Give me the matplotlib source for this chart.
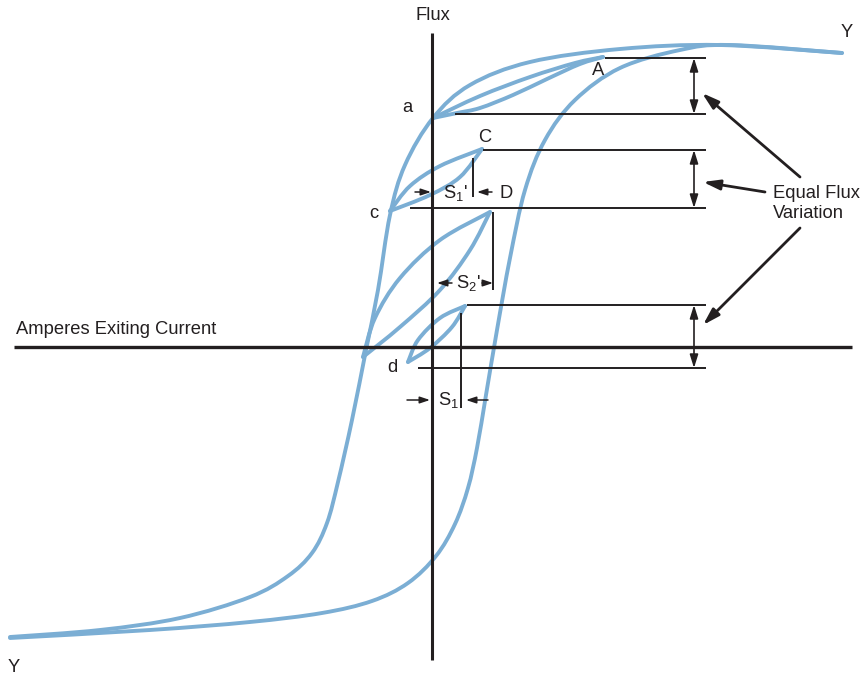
import numpy as np
import matplotlib
matplotlib.use("Agg")
import matplotlib.pyplot as plt
from matplotlib.path import Path
from matplotlib.patches import PathPatch

plt.rcParams["font.family"] = ["Liberation Sans", "DejaVu Sans"]
plt.rcParams["mathtext.default"] = "regular"

BLUE = "#7BAED4"
INK = "#231F20"

# main hysteresis loop, picture coordinates (x right, y down)
descending = [(842, 53), (720, 45), (620, 49), (530, 62), (470, 85), (433, 118),
              (405, 165), (390, 215), (378, 290), (366, 350), (352, 420),
              (338, 482), (327, 523), (312, 553), (288, 576), (250, 597),
              (180, 618), (100, 630), (10, 637)]
ascending = [(10, 638), (150, 630), (250, 622), (322, 613), (372, 601),
             (408, 583), (436, 556), (455, 524), (468, 488), (477, 448),
             (486, 395), (497, 330), (510, 258), (525, 190), (545, 140),
             (575, 100), (620, 68), (680, 50), (730, 45), (842, 53)]

# minor loops: start point -> tip
minor_loops = {
    "aA": ([(433, 118), (480, 96), (530, 77), (575, 63), (603, 57)],
           [(433, 118), (457, 113), (480, 108), (513, 95), (547, 79),
            (580, 64), (603, 57)]),
    "cC": ([(390, 211), (410, 186), (440, 166), (482, 149)],
           [(390, 211), (430, 195), (460, 177), (482, 149)]),
    "big": ([(363, 357), (375, 318), (400, 278), (440, 240), (490, 212)],
            [(363, 357), (400, 327), (440, 290), (470, 250), (490, 212)]),
    "d": ([(408, 362), (418, 340), (440, 318), (465, 306)],
          [(408, 362), (430, 348), (452, 327), (465, 306)]),
}

# reference lines on the right
ref_y = [58, 114, 150, 208, 305, 368]
ref_x0 = [605, 455, 483, 410, 467, 418]
ref_x1 = 706
flux_arrow_x = 694
flux_pairs = [(58, 114), (150, 208), (305, 368)]

# short vertical markers (x, y top, y bottom)
markers = [(473, 158, 197), (493, 212, 290), (461, 313, 408)]

# small width arrows (tail, head)
small_arrows = [((415, 192), (431, 192)), ((492, 192), (477, 192)),
                ((452, 283), (437, 283)), ((482, 283), (493, 283)),
                ((407, 400), (430, 400)), ((488, 400), (466, 400))]

# callout arrows from the "Equal Flux Variation" label
callouts = [((800, 177), (702, 93)), ((765, 192), (703, 182)),
            ((800, 228), (703, 325))]

labels = [("Flux", 433, 20, "center"), ("a", 407, 112, "center"),
          ("A", 598, 75, "center"), ("C", 485, 142, "center"),
          ("c", 374, 218, "center"), ("D", 506, 198, "center"),
          ("d", 392, 372, "center"), ("Y", 847, 37, "center"),
          ("Y", 14, 672, "center"), ("Amperes Exiting Current", 16, 334, "left"),
          ("Equal Flux", 773, 198, "left"), ("Variation", 773, 218, "left"),
          (r"S$_1$'", 443, 198, "left"), (r"S$_2$'", 456, 288, "left"),
          (r"S$_1$", 438, 405, "left")]


def smooth_path(pts):
    p = np.asarray(pts, dtype=float)
    ext = np.vstack([p[0], p, p[-1]])
    verts = [p[0]]
    codes = [Path.MOVETO]
    for i in range(1, len(ext) - 2):
        p0, p1, p2, p3 = ext[i - 1:i + 3]
        verts += [p1 + (p2 - p0) / 6, p2 - (p3 - p1) / 6, p2]
        codes += [Path.CURVE4] * 3
    return Path(verts, codes)


def draw_curve(ax, pts):
    ax.add_patch(PathPatch(smooth_path(pts), fill=False, edgecolor=BLUE,
                           lw=2.8, capstyle="round", joinstyle="round", zorder=1))


fig = plt.figure(figsize=(8.64, 6.75), dpi=100)
ax = fig.add_axes([0, 0, 1, 1])
ax.set_xlim(0, 864)
ax.set_ylim(675, 0)
ax.axis("off")

draw_curve(ax, descending)
draw_curve(ax, ascending)
for upper, lower in minor_loops.values():
    draw_curve(ax, upper)
    draw_curve(ax, lower)

# axes
ax.plot([14, 852], [347, 347], color=INK, lw=2.4, zorder=3, solid_capstyle="butt")
ax.plot([432, 432], [33, 660], color=INK, lw=2.2, zorder=3, solid_capstyle="butt")

for y, x0 in zip(ref_y, ref_x0):
    ax.plot([x0, ref_x1], [y, y], color=INK, lw=1.4, zorder=2, solid_capstyle="butt")

for x, y0, y1 in markers:
    ax.plot([x, x], [y0, y1], color=INK, lw=1.4, zorder=2, solid_capstyle="butt")

for y0, y1 in flux_pairs:
    ax.annotate("", xy=(flux_arrow_x, y1), xytext=(flux_arrow_x, y0),
                arrowprops=dict(arrowstyle="<|-|>,head_length=0.8,head_width=0.25",
                                lw=1.2, color=INK, shrinkA=0, shrinkB=0), zorder=2)

for tail, head in small_arrows:
    ax.annotate("", xy=head, xytext=tail,
                arrowprops=dict(arrowstyle="-|>,head_length=0.6,head_width=0.2",
                                lw=1.1, color=INK, shrinkA=0, shrinkB=0), zorder=2)

for tail, head in callouts:
    ax.annotate("", xy=head, xytext=tail,
                arrowprops=dict(arrowstyle="-|>,head_length=1.0,head_width=0.3",
                                lw=2.0, color=INK, shrinkA=0, shrinkB=0), zorder=2)

for text, x, y, ha in labels:
    ax.text(x, y, text, ha=ha, va="baseline", fontsize=13.2, color=INK, zorder=4)

fig.savefig("out.png", dpi=100)
plt.close(fig)
